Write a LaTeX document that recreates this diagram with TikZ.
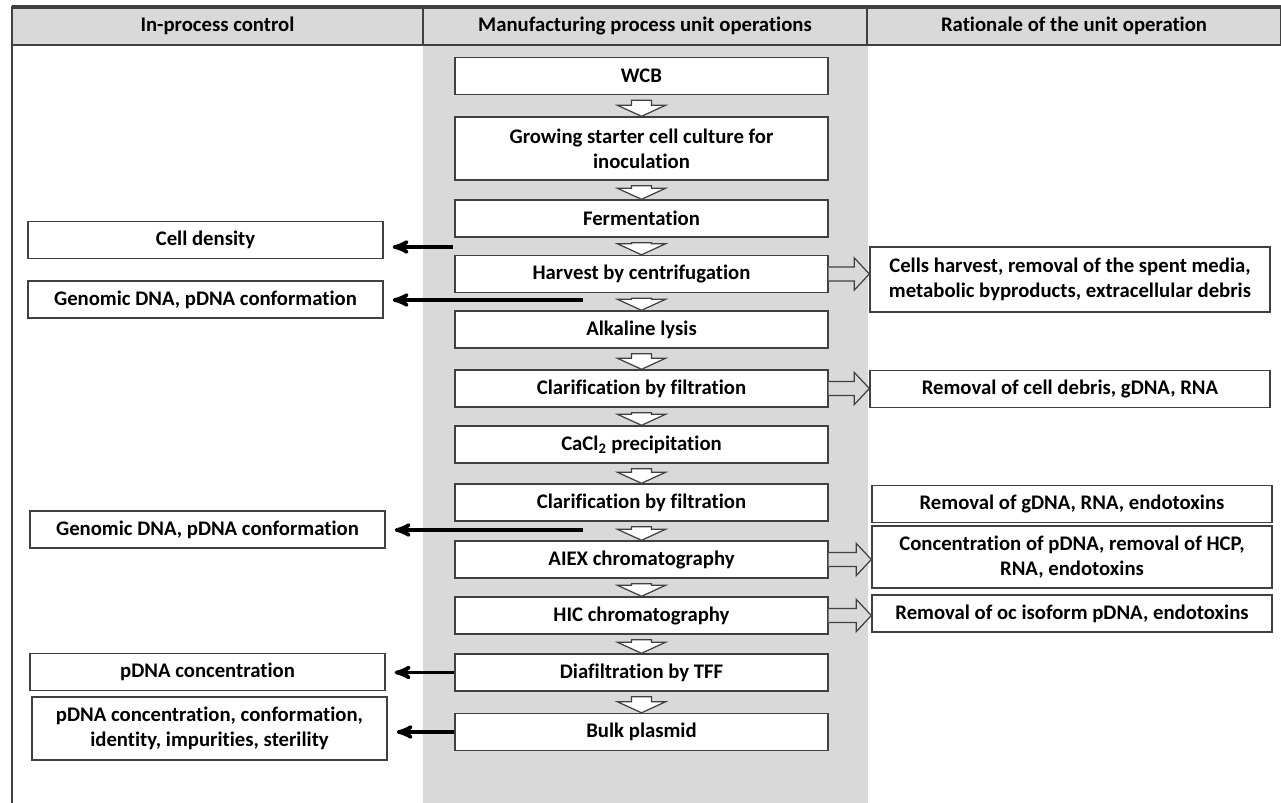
\documentclass[tikz,border=0pt]{standalone}
\usepackage{fontspec}
\setmainfont{Carlito}[Ligatures=NoCommon]
\usepackage{xcolor}
\usepackage{tikz}
\usetikzlibrary{arrows, positioning, calc}

\definecolor{panelgray}{HTML}{D9D9D9}
\definecolor{edgegray}{HTML}{404040}

\tikzset{
	opbox/.style={draw=edgegray, fill=white, line width=0.8pt, minimum width=7.46cm, minimum height=0.74cm, inner sep=1pt, align=center, font=\bfseries\fontsize{11.8}{14.2}\selectfont},
	ctrlbox/.style={opbox, minimum width=7.1cm},
	ratbox/.style={opbox, minimum width=8cm},
	headbox/.style={draw=edgegray, fill=panelgray, line width=0.8pt, minimum height=0.76cm, inner sep=0pt, font=\bfseries\fontsize{11.8}{14.2}\selectfont},
	ctrlarrow/.style={->, >=stealth', line width=2pt, shorten >=0.18cm},
	downarrow/.style={draw=edgegray, fill=white, line width=0.7pt},
	sidearrow/.style={draw=edgegray, fill=panelgray, line width=0.7pt}
}

% hollow arrow between two unit operations
\newcommand\downblock[2]{%
	\draw[downarrow] ($(#1.south)+(-10,5)$) -- ($(#1.south)+(10,5)$)
		-- ($(#2.north)+(10,-11)$) -- ($(#2.north)+(24,-11)$) -- (#2.north)
		-- ($(#2.north)+(-24,-11)$) -- ($(#2.north)+(-10,-11)$) -- cycle;}

% hollow arrow to a rationale box
\newcommand\sideblock[2]{%
	\coordinate (tip) at (#1.east -| #2.west);
	\filldraw[sidearrow] ($(#1.east)+(0,-7)$) -- ($(tip)+(-15,-7)$) -- ($(tip)+(-15,-16)$)
		-- (tip) -- ($(tip)+(-15,16)$) -- ($(tip)+(-15,7)$) -- ($(#1.east)+(0,7)$);}

\begin{document}
\begin{tikzpicture}[x=0.02cm, y=-0.02cm]
	\useasboundingbox (0,0) rectangle (1281,803);

	% columns
	\fill[panelgray] (423,45) rectangle (868,803);
	\node[headbox, minimum width=8.22cm] (hctrl) at (217.5,26) {In-process control};
	\node[headbox, minimum width=8.88cm] (hops) at (645,26) {Manufacturing process unit operations};
	\node[headbox, minimum width=8.28cm] (hrat) at (1074,26) {Rationale of the unit operation};
	\draw[edgegray, line width=2pt] (12,7) -- (1283,7);
	\draw[edgegray, line width=1.5pt] (12,7) -- (12,805);

	% unit operations
	\node[opbox] (wcb) at (641.5,76) {WCB};
	\node[opbox, minimum height=1.26cm] (grow) at (641.5,148.5) {Growing starter cell culture for\\inoculation};
	\node[opbox] (ferm) at (641.5,218.5) {Fermentation};
	\node[opbox] (harv) at (641.5,274) {Harvest by centrifugation};
	\node[opbox] (lysis) at (641.5,329.5) {Alkaline lysis};
	\node[opbox] (clarA) at (641.5,388.5) {Clarification by filtration};
	\node[opbox] (cacl) at (641.5,444.5) {CaCl\textsubscript{2} precipitation};
	\node[opbox] (clarB) at (641.5,502.5) {Clarification by filtration};
	\node[opbox] (aiex) at (641.5,559.5) {AIEX chromatography};
	\node[opbox] (hic) at (641.5,615.5) {HIC chromatography};
	\node[opbox] (diaf) at (641.5,672.5) {Diafiltration by TFF};
	\node[opbox] (bulk) at (641.5,732) {Bulk plasmid};

	\foreach \a/\b in {wcb/grow, grow/ferm, ferm/harv, harv/lysis, lysis/clarA, clarA/cacl,
		cacl/clarB, clarB/aiex, aiex/hic, hic/diaf, diaf/bulk}
		\downblock{\a}{\b};

	% in-process control
	\node[ctrlbox] (celld) at (205.5,240) {Cell density};
	\node[ctrlbox] (gdnaA) at (205.5,299.5) {Genomic DNA, pDNA conformation};
	\node[ctrlbox] (gdnaB) at (207.5,529.5) {Genomic DNA, pDNA conformation};
	\node[ctrlbox] (pconc) at (207.5,672) {pDNA concentration};
	\node[ctrlbox, minimum height=1.26cm] (prel) at (209.5,728.5) {pDNA concentration, conformation,\\identity, impurities, sterility};

	\coordinate (fermout) at (453,247);
	\coordinate (harvout) at (583,300);
	\coordinate (clarout) at (583,530);
	\draw[ctrlarrow] (fermout) -- (fermout -| celld.east);
	\draw[ctrlarrow] (harvout) -- (harvout -| gdnaA.east);
	\draw[ctrlarrow] (clarout) -- (clarout -| gdnaB.east);
	\draw[ctrlarrow] (diaf.west) -- (diaf.west -| pconc.east);
	\draw[ctrlarrow] (bulk.west) -- (bulk.west -| prel.east);

	% rationale
	\node[ratbox, minimum height=1.3cm] (rharv) at (1070,279.5) {Cells harvest, removal of the spent media,\\metabolic byproducts, extracellular debris};
	\node[ratbox] (rclar) at (1070,389) {Removal of cell debris, gDNA, RNA};
	\node[ratbox] (rclarB) at (1072,504) {Removal of gDNA, RNA, endotoxins};
	\node[ratbox, minimum height=1.24cm] (raiex) at (1072,557) {Concentration of pDNA, removal of HCP,\\RNA, endotoxins};
	\node[ratbox] (rhic) at (1072,613.5) {Removal of oc isoform pDNA, endotoxins};

	\sideblock{harv}{rharv}
	\sideblock{clarA}{rclar}
	\sideblock{aiex}{raiex}
	\sideblock{hic}{rhic}
\end{tikzpicture}
\end{document}
